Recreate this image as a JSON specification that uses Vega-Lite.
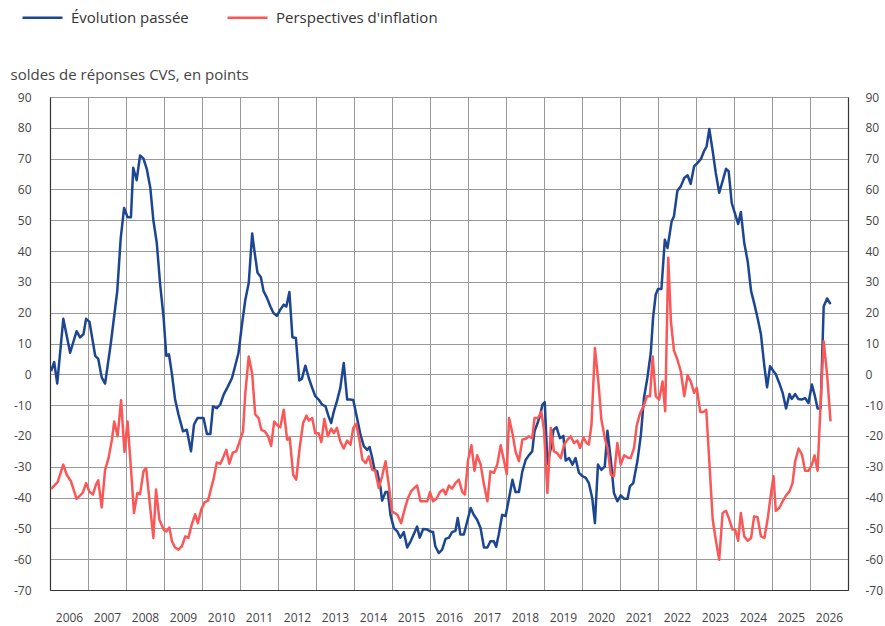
{
"$schema":"https://vega.github.io/schema/vega-lite/v6.json",
"width":798,"height":493,
"autosize":{"type":"none"},
"padding":{"left":50,"top":97,"right":37,"bottom":36},
"background":"white",
"config":{"font":"Open Sans","view":{"stroke":null},"axis":{"labelFont":"Open Sans","labelFontSize":12,"labelColor":"#444444","gridColor":"#999999","gridWidth":1,"domainColor":"#333333","domainWidth":1.2,"ticks":false}},
"datasets":{
"evol":[{"t":2006.03,"v":1},{"t":2006.11,"v":4},{"t":2006.19,"v":-3},{"t":2006.35,"v":18},{"t":2006.53,"v":7},{"t":2006.70,"v":14},{"t":2006.79,"v":12},{"t":2006.88,"v":13},{"t":2006.95,"v":18},{"t":2007.04,"v":17},{"t":2007.19,"v":6},{"t":2007.27,"v":5},{"t":2007.36,"v":-1},{"t":2007.45,"v":-3},{"t":2007.60,"v":10},{"t":2007.77,"v":27},{"t":2007.86,"v":44},{"t":2007.95,"v":54},{"t":2008.04,"v":51},{"t":2008.13,"v":51},{"t":2008.19,"v":67},{"t":2008.28,"v":63},{"t":2008.37,"v":71},{"t":2008.46,"v":70},{"t":2008.55,"v":66.5},{"t":2008.64,"v":60.5},{"t":2008.72,"v":50},{"t":2008.81,"v":42.6},{"t":2008.90,"v":29},{"t":2008.99,"v":18.3},{"t":2009.06,"v":6},{"t":2009.13,"v":6.5},{"t":2009.21,"v":0},{"t":2009.29,"v":-8},{"t":2009.38,"v":-13},{"t":2009.50,"v":-18.5},{"t":2009.60,"v":-18},{"t":2009.71,"v":-25},{"t":2009.79,"v":-16.3},{"t":2009.88,"v":-14.2},{"t":2009.96,"v":-14.2},{"t":2010.04,"v":-14.2},{"t":2010.13,"v":-19.4},{"t":2010.22,"v":-19.4},{"t":2010.29,"v":-10.4},{"t":2010.39,"v":-11},{"t":2010.48,"v":-9.8},{"t":2010.57,"v":-6.6},{"t":2010.68,"v":-4},{"t":2010.79,"v":-1.2},{"t":2010.87,"v":2.6},{"t":2010.96,"v":6.9},{"t":2011.05,"v":16},{"t":2011.14,"v":24.2},{"t":2011.23,"v":29.6},{"t":2011.32,"v":45.7},{"t":2011.38,"v":40},{"t":2011.46,"v":33},{"t":2011.55,"v":31.5},{"t":2011.62,"v":27},{"t":2011.71,"v":24.8},{"t":2011.80,"v":22},{"t":2011.88,"v":19.9},{"t":2011.97,"v":19},{"t":2012.06,"v":21},{"t":2012.15,"v":22.6},{"t":2012.22,"v":22},{"t":2012.30,"v":26.7},{"t":2012.38,"v":12},{"t":2012.47,"v":11.8},{"t":2012.56,"v":-2},{"t":2012.63,"v":-1.4},{"t":2012.72,"v":2.8},{"t":2012.81,"v":-1.2},{"t":2012.90,"v":-4.4},{"t":2012.98,"v":-7.1},{"t":2013.07,"v":-8.2},{"t":2013.16,"v":-9.8},{"t":2013.25,"v":-10.4},{"t":2013.33,"v":-13.6},{"t":2013.40,"v":-15.8},{"t":2013.47,"v":-12},{"t":2013.55,"v":-8.8},{"t":2013.64,"v":-4.4},{"t":2013.73,"v":3.7},{"t":2013.82,"v":-8.2},{"t":2013.90,"v":-8.2},{"t":2013.98,"v":-8.3},{"t":2014.08,"v":-14.2},{"t":2014.17,"v":-19.6},{"t":2014.26,"v":-23.4},{"t":2014.35,"v":-24.5},{"t":2014.41,"v":-23.6},{"t":2014.48,"v":-27.2},{"t":2014.54,"v":-31},{"t":2014.61,"v":-31.5},{"t":2014.70,"v":-37},{"t":2014.74,"v":-41},{"t":2014.83,"v":-38.2},{"t":2014.89,"v":-38.2},{"t":2014.96,"v":-45.6},{"t":2015.05,"v":-49.9},{"t":2015.14,"v":-51},{"t":2015.22,"v":-53},{"t":2015.31,"v":-51.2},{"t":2015.40,"v":-56.2},{"t":2015.49,"v":-54.2},{"t":2015.57,"v":-52},{"t":2015.66,"v":-49.4},{"t":2015.73,"v":-53},{"t":2015.82,"v":-50.2},{"t":2015.93,"v":-50.4},{"t":2016.01,"v":-51},{"t":2016.08,"v":-51.2},{"t":2016.14,"v":-55.8},{"t":2016.23,"v":-58},{"t":2016.32,"v":-56.9},{"t":2016.41,"v":-53.4},{"t":2016.50,"v":-53},{"t":2016.58,"v":-51.2},{"t":2016.67,"v":-50.8},{"t":2016.73,"v":-46.6},{"t":2016.80,"v":-52},{"t":2016.89,"v":-52},{"t":2016.98,"v":-47.7},{"t":2017.07,"v":-43.4},{"t":2017.15,"v":-45.6},{"t":2017.24,"v":-47.2},{"t":2017.33,"v":-49.9},{"t":2017.42,"v":-56.2},{"t":2017.51,"v":-56.2},{"t":2017.59,"v":-54.2},{"t":2017.68,"v":-54.2},{"t":2017.74,"v":-56},{"t":2017.81,"v":-52},{"t":2017.90,"v":-45.6},{"t":2017.99,"v":-46},{"t":2018.08,"v":-40.2},{"t":2018.17,"v":-34.2},{"t":2018.25,"v":-38.2},{"t":2018.34,"v":-38.2},{"t":2018.43,"v":-31.5},{"t":2018.52,"v":-27.7},{"t":2018.60,"v":-26.3},{"t":2018.69,"v":-25},{"t":2018.75,"v":-18.5},{"t":2018.83,"v":-15.8},{"t":2018.89,"v":-13.6},{"t":2018.96,"v":-9.8},{"t":2019.02,"v":-9},{"t":2019.09,"v":-29},{"t":2019.18,"v":-24},{"t":2019.25,"v":-18},{"t":2019.33,"v":-17.2},{"t":2019.42,"v":-20.7},{"t":2019.51,"v":-20},{"t":2019.57,"v":-28},{"t":2019.66,"v":-27.2},{"t":2019.75,"v":-29.3},{"t":2019.83,"v":-27.2},{"t":2019.92,"v":-32},{"t":2020.01,"v":-33},{"t":2020.10,"v":-33.6},{"t":2020.18,"v":-35.3},{"t":2020.27,"v":-40.2},{"t":2020.34,"v":-48.3},{"t":2020.42,"v":-29.3},{"t":2020.51,"v":-31},{"t":2020.60,"v":-29.9},{"t":2020.67,"v":-18.3},{"t":2020.76,"v":-28},{"t":2020.84,"v":-38.5},{"t":2020.93,"v":-41.2},{"t":2021.02,"v":-39.3},{"t":2021.11,"v":-40.4},{"t":2021.20,"v":-40.4},{"t":2021.26,"v":-36.4},{"t":2021.35,"v":-35.3},{"t":2021.46,"v":-28},{"t":2021.55,"v":-19.6},{"t":2021.63,"v":-7.7},{"t":2021.72,"v":-1.2},{"t":2021.81,"v":7},{"t":2021.87,"v":18.3},{"t":2021.94,"v":25.9},{"t":2022.00,"v":27.7},{"t":2022.09,"v":27.7},{"t":2022.18,"v":43.7},{"t":2022.25,"v":41},{"t":2022.36,"v":49.7},{"t":2022.42,"v":51.3},{"t":2022.51,"v":59.6},{"t":2022.60,"v":61},{"t":2022.69,"v":63.7},{"t":2022.78,"v":64.6},{"t":2022.86,"v":61.8},{"t":2022.95,"v":67.5},{"t":2023.04,"v":68.6},{"t":2023.13,"v":69.9},{"t":2023.21,"v":72.4},{"t":2023.28,"v":74},{"t":2023.35,"v":79.6},{"t":2023.44,"v":72.4},{"t":2023.52,"v":65.4},{"t":2023.61,"v":58.9},{"t":2023.70,"v":62.7},{"t":2023.79,"v":66.7},{"t":2023.86,"v":65.9},{"t":2023.94,"v":55.6},{"t":2024.02,"v":52.4},{"t":2024.11,"v":48.8},{"t":2024.18,"v":52.7},{"t":2024.27,"v":42.6},{"t":2024.36,"v":36.7},{"t":2024.45,"v":27},{"t":2024.53,"v":23.1},{"t":2024.62,"v":18.3},{"t":2024.71,"v":12.9},{"t":2024.80,"v":2.5},{"t":2024.87,"v":-4.2},{"t":2024.95,"v":2.6},{"t":2025.04,"v":1},{"t":2025.10,"v":0},{"t":2025.19,"v":-2.8},{"t":2025.28,"v":-6},{"t":2025.37,"v":-11.1},{"t":2025.46,"v":-6.4},{"t":2025.52,"v":-8},{"t":2025.61,"v":-6.4},{"t":2025.69,"v":-8},{"t":2025.78,"v":-8.2},{"t":2025.87,"v":-7.7},{"t":2025.96,"v":-9.3},{"t":2026.05,"v":-3.3},{"t":2026.13,"v":-7.1},{"t":2026.20,"v":-11.1},{"t":2026.28,"v":-11},{"t":2026.36,"v":22},{"t":2026.45,"v":24.6},{"t":2026.54,"v":22.8}],
"persp":[{"t":2006.03,"v":-37.2},{"t":2006.20,"v":-35},{"t":2006.35,"v":-29.3},{"t":2006.44,"v":-32.6},{"t":2006.55,"v":-34.7},{"t":2006.70,"v":-40.4},{"t":2006.86,"v":-38.5},{"t":2006.95,"v":-35.3},{"t":2007.04,"v":-38.2},{"t":2007.13,"v":-39},{"t":2007.21,"v":-35.8},{"t":2007.27,"v":-34.4},{"t":2007.36,"v":-43.2},{"t":2007.45,"v":-31},{"t":2007.54,"v":-27.2},{"t":2007.63,"v":-21.2},{"t":2007.69,"v":-15.3},{"t":2007.78,"v":-20.1},{"t":2007.87,"v":-8.4},{"t":2007.96,"v":-25.2},{"t":2008.04,"v":-15.3},{"t":2008.13,"v":-30.4},{"t":2008.21,"v":-45},{"t":2008.30,"v":-38.5},{"t":2008.37,"v":-38.9},{"t":2008.46,"v":-31.5},{"t":2008.53,"v":-30.4},{"t":2008.62,"v":-41.2},{"t":2008.72,"v":-53.1},{"t":2008.79,"v":-37.4},{"t":2008.88,"v":-47.2},{"t":2008.99,"v":-50.4},{"t":2009.06,"v":-51},{"t":2009.14,"v":-49.7},{"t":2009.21,"v":-54.2},{"t":2009.29,"v":-56.2},{"t":2009.38,"v":-56.9},{"t":2009.47,"v":-55.8},{"t":2009.56,"v":-52.6},{"t":2009.64,"v":-53.1},{"t":2009.73,"v":-48.8},{"t":2009.82,"v":-45.4},{"t":2009.89,"v":-48.3},{"t":2009.98,"v":-43.9},{"t":2010.07,"v":-41.5},{"t":2010.16,"v":-41},{"t":2010.24,"v":-37},{"t":2010.30,"v":-34.2},{"t":2010.39,"v":-28.6},{"t":2010.48,"v":-29.1},{"t":2010.55,"v":-27.2},{"t":2010.64,"v":-24.5},{"t":2010.72,"v":-29},{"t":2010.81,"v":-25.4},{"t":2010.90,"v":-25},{"t":2010.99,"v":-21.8},{"t":2011.08,"v":-18.5},{"t":2011.14,"v":-6},{"t":2011.23,"v":5.8},{"t":2011.32,"v":0.2},{"t":2011.40,"v":-13},{"t":2011.49,"v":-14.2},{"t":2011.56,"v":-18},{"t":2011.65,"v":-18.5},{"t":2011.74,"v":-20.1},{"t":2011.82,"v":-23.2},{"t":2011.90,"v":-15.3},{"t":2011.99,"v":-16.6},{"t":2012.06,"v":-17.2},{"t":2012.15,"v":-11.5},{"t":2012.24,"v":-21.2},{"t":2012.31,"v":-20.7},{"t":2012.40,"v":-32.6},{"t":2012.48,"v":-34.2},{"t":2012.57,"v":-23.9},{"t":2012.66,"v":-15.8},{"t":2012.75,"v":-13.4},{"t":2012.81,"v":-15},{"t":2012.90,"v":-14.2},{"t":2012.98,"v":-19.1},{"t":2013.07,"v":-19.1},{"t":2013.14,"v":-22},{"t":2013.22,"v":-14.4},{"t":2013.31,"v":-20.1},{"t":2013.40,"v":-17.6},{"t":2013.47,"v":-19.1},{"t":2013.55,"v":-17.4},{"t":2013.64,"v":-21.8},{"t":2013.73,"v":-24.1},{"t":2013.82,"v":-21.5},{"t":2013.91,"v":-22.8},{"t":2013.98,"v":-17.4},{"t":2014.06,"v":-16.1},{"t":2014.15,"v":-21.8},{"t":2014.22,"v":-27.7},{"t":2014.31,"v":-28.8},{"t":2014.39,"v":-26.6},{"t":2014.48,"v":-31},{"t":2014.56,"v":-31.3},{"t":2014.65,"v":-36.9},{"t":2014.74,"v":-33.1},{"t":2014.83,"v":-28.2},{"t":2014.92,"v":-36.4},{"t":2015.00,"v":-44.5},{"t":2015.07,"v":-45},{"t":2015.14,"v":-45.6},{"t":2015.24,"v":-48.3},{"t":2015.33,"v":-43.9},{"t":2015.42,"v":-40.2},{"t":2015.50,"v":-38},{"t":2015.57,"v":-37.1},{"t":2015.66,"v":-36.1},{"t":2015.75,"v":-41.2},{"t":2015.84,"v":-41.2},{"t":2015.93,"v":-41.2},{"t":2016.00,"v":-38.2},{"t":2016.08,"v":-41.2},{"t":2016.17,"v":-40.4},{"t":2016.26,"v":-38.2},{"t":2016.35,"v":-37.4},{"t":2016.41,"v":-39},{"t":2016.50,"v":-36.1},{"t":2016.58,"v":-37.1},{"t":2016.67,"v":-35.3},{"t":2016.76,"v":-34.2},{"t":2016.85,"v":-38.2},{"t":2016.92,"v":-39},{"t":2017.00,"v":-28},{"t":2017.09,"v":-23},{"t":2017.17,"v":-31.3},{"t":2017.24,"v":-26.3},{"t":2017.33,"v":-29.1},{"t":2017.42,"v":-35.8},{"t":2017.51,"v":-41.2},{"t":2017.59,"v":-31.5},{"t":2017.68,"v":-32},{"t":2017.77,"v":-29.3},{"t":2017.86,"v":-23},{"t":2017.95,"v":-28.2},{"t":2018.02,"v":-32.4},{"t":2018.08,"v":-14.2},{"t":2018.17,"v":-19.1},{"t":2018.25,"v":-25},{"t":2018.34,"v":-28.2},{"t":2018.43,"v":-21.2},{"t":2018.52,"v":-20.9},{"t":2018.60,"v":-20.1},{"t":2018.69,"v":-20.7},{"t":2018.75,"v":-14.2},{"t":2018.84,"v":-14.2},{"t":2018.93,"v":-12.2},{"t":2019.00,"v":-18},{"t":2019.09,"v":-38.5},{"t":2019.18,"v":-17.4},{"t":2019.26,"v":-25},{"t":2019.35,"v":-25.6},{"t":2019.44,"v":-27.2},{"t":2019.53,"v":-22.8},{"t":2019.62,"v":-21.2},{"t":2019.70,"v":-20.1},{"t":2019.79,"v":-22.3},{"t":2019.88,"v":-21.5},{"t":2019.95,"v":-23.9},{"t":2020.04,"v":-20.5},{"t":2020.12,"v":-22.3},{"t":2020.18,"v":-22.8},{"t":2020.25,"v":-16.3},{"t":2020.34,"v":8.5},{"t":2020.43,"v":-2.3},{"t":2020.51,"v":-14.7},{"t":2020.60,"v":-20.7},{"t":2020.67,"v":-23.9},{"t":2020.76,"v":-32.6},{"t":2020.84,"v":-33.1},{"t":2020.93,"v":-22.3},{"t":2021.02,"v":-29.3},{"t":2021.11,"v":-26.3},{"t":2021.20,"v":-27},{"t":2021.28,"v":-27.2},{"t":2021.37,"v":-23.9},{"t":2021.44,"v":-16.6},{"t":2021.53,"v":-12.6},{"t":2021.62,"v":-10.4},{"t":2021.71,"v":-7.1},{"t":2021.79,"v":-7.1},{"t":2021.86,"v":5.8},{"t":2021.94,"v":-7.1},{"t":2022.03,"v":-8.2},{"t":2022.12,"v":-2.3},{"t":2022.19,"v":-12},{"t":2022.27,"v":37.8},{"t":2022.34,"v":17.2},{"t":2022.42,"v":7.7},{"t":2022.51,"v":4.8},{"t":2022.60,"v":1},{"t":2022.69,"v":-7.1},{"t":2022.78,"v":-0.3},{"t":2022.86,"v":-2.3},{"t":2022.95,"v":-6},{"t":2023.02,"v":-4.4},{"t":2023.11,"v":-12.2},{"t":2023.20,"v":-12.2},{"t":2023.27,"v":-11.5},{"t":2023.35,"v":-28.2},{"t":2023.44,"v":-47.2},{"t":2023.52,"v":-53.7},{"t":2023.61,"v":-60.2},{"t":2023.70,"v":-45},{"t":2023.79,"v":-44.3},{"t":2023.87,"v":-46.9},{"t":2023.96,"v":-50.4},{"t":2024.03,"v":-50.4},{"t":2024.11,"v":-54},{"t":2024.18,"v":-45},{"t":2024.27,"v":-52.6},{"t":2024.36,"v":-54},{"t":2024.45,"v":-53.1},{"t":2024.53,"v":-46.1},{"t":2024.62,"v":-46.4},{"t":2024.71,"v":-52.6},{"t":2024.80,"v":-53.1},{"t":2024.89,"v":-46.6},{"t":2024.97,"v":-39},{"t":2025.04,"v":-33.1},{"t":2025.10,"v":-44.3},{"t":2025.19,"v":-43.4},{"t":2025.28,"v":-41.2},{"t":2025.37,"v":-39.3},{"t":2025.46,"v":-38},{"t":2025.54,"v":-35.3},{"t":2025.61,"v":-28.2},{"t":2025.70,"v":-24.1},{"t":2025.79,"v":-26.1},{"t":2025.87,"v":-31.3},{"t":2025.96,"v":-31.3},{"t":2026.05,"v":-29.3},{"t":2026.12,"v":-26.3},{"t":2026.20,"v":-31.3},{"t":2026.29,"v":-6.6},{"t":2026.36,"v":10.7},{"t":2026.45,"v":0},{"t":2026.54,"v":-15.3}]
},
"encoding":{
"x":{"field":"t","type":"quantitative","scale":{"domain":[2006,2027],"nice":false,"zero":false},
"axis":{"orient":"bottom","values":[2006,2007,2008,2009,2010,2011,2012,2013,2014,2015,2016,2017,2018,2019,2020,2021,2022,2023,2024,2025,2026,2027],"grid":true,"labelExpr":"datum.value >= 2027 ? '' : format(datum.value, 'd')","labelOffset":19,"labelPadding":22,"labelOverlap":false,"labelFlush":false,"labelBound":false,"title":null}}
},
"layer":[
{"data":{"name":"evol"},"mark":{"type":"line","strokeWidth":2.5,"strokeJoin":"round"},
"encoding":{
"y":{"field":"v","type":"quantitative","scale":{"domain":[-70,90],"nice":false,"zero":false},
"axis":{"orient":"left","values":[-70,-60,-50,-40,-30,-20,-10,0,10,20,30,40,50,60,70,80,90],"grid":true,"labelPadding":19,"labelExpr":"datum.value < 0 ? '-' + abs(datum.value) : '' + datum.value","title":"soldes de réponses CVS, en points","titleAngle":0,"titleAlign":"left","titleBaseline":"middle","titleX":-40,"titleY":-23,"titleFontSize":15,"titleFontWeight":"normal","titleColor":"#444444","titleFont":"Open Sans"}},
"color":{"datum":"Évolution passée","type":"nominal","scale":{"domain":["Évolution passée","Perspectives d'inflation"],"range":["#1c4592","#fb5757"]},
"legend":{"title":null,"orient":"none","legendX":-29,"legendY":-101,"direction":"horizontal","symbolType":"stroke","symbolSize":1600,"symbolStrokeWidth":2.5,"labelFontSize":15,"labelColor":"#333333","labelFont":"Open Sans","labelOffset":7,"columnPadding":33,"padding":0,"labelLimit":400}}
}},
{"data":{"name":"persp"},"mark":{"type":"line","strokeWidth":2.5,"strokeJoin":"round"},
"encoding":{
"y":{"field":"v","type":"quantitative","scale":{"domain":[-70,90],"nice":false,"zero":false},
"axis":{"orient":"right","values":[-70,-60,-50,-40,-30,-20,-10,0,10,20,30,40,50,60,70,80,90],"grid":false,"labelPadding":17,"labelExpr":"datum.value < 0 ? '-' + abs(datum.value) : '' + datum.value","title":null}},
"color":{"datum":"Perspectives d'inflation","type":"nominal"}
}}
],
"resolve":{"axis":{"y":"independent"}}
}
